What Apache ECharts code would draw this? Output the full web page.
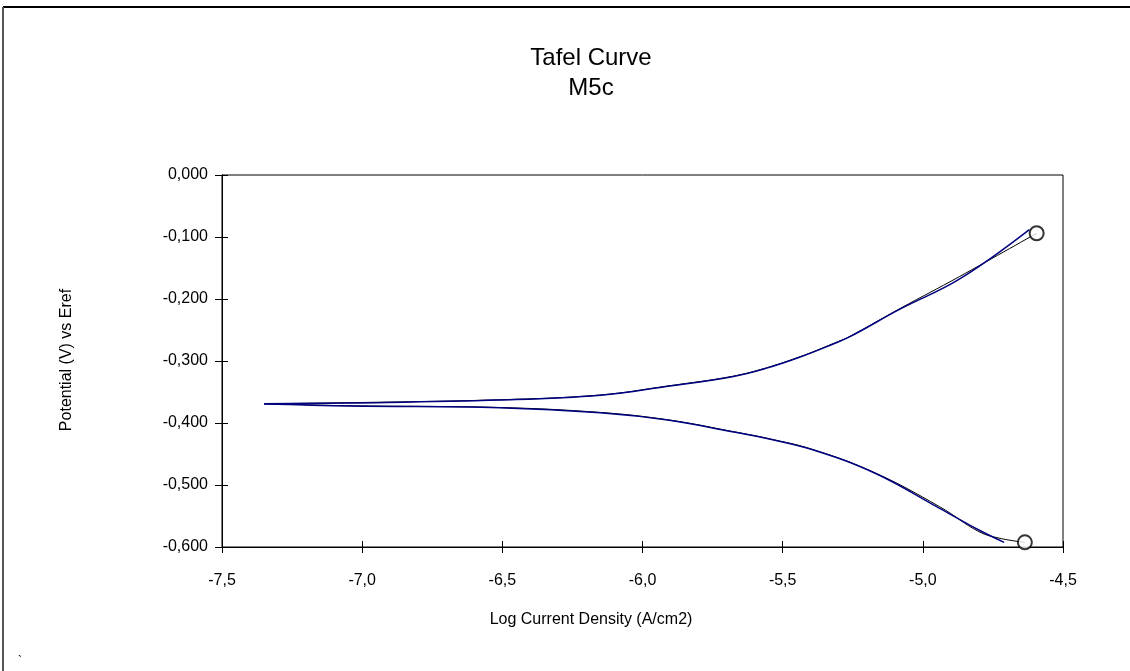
<!DOCTYPE html>
<html>
<head>
<meta charset="utf-8">
<title>Tafel Curve M5c</title>
<script src="https://cdn.jsdelivr.net/npm/echarts@6/dist/echarts.min.js"></script>
<style>
  html, body { margin: 0; padding: 0; background: #fff; }
  #chart { width: 1130px; height: 671px; }
</style>
</head>
<body>
<div id="chart"></div>
<script>
// Measured polarisation curve, anodic (upper) branch
const upperLogI = [-7.35, -7.04, -6.51, -6.15, -5.91, -5.68, -5.56, -5.44, -5.32, -5.26, -5.08, -4.87, -4.62];
const upperE    = [-0.369, -0.3677, -0.3630, -0.3553, -0.3408, -0.3253, -0.3119, -0.2940, -0.2726, -0.2608, -0.216, -0.168, -0.088];
// Measured polarisation curve, cathodic (lower) branch
const lowerLogI = [-7.35, -7.04, -6.51, -6.15, -5.91, -5.68, -5.56, -5.39, -5.17, -4.94, -4.80, -4.71];
const lowerE    = [-0.369, -0.3726, -0.3753, -0.3834, -0.3952, -0.4140, -0.4247, -0.4435, -0.481, -0.5376, -0.5726, -0.5925];
// Fitted Tafel curve
const fitUpperLogI = [-7.35, -7.04, -6.51, -6.15, -5.91, -5.68, -5.56, -5.44, -5.32, -5.26, -5.08, -4.87, -4.594];
const fitUpperE    = [-0.369, -0.3672, -0.3625, -0.3548, -0.3403, -0.3248, -0.3113, -0.2934, -0.2720, -0.2602, -0.215, -0.164, -0.094];
const fitLowerLogI = [-7.35, -7.04, -6.51, -6.15, -5.91, -5.68, -5.56, -5.39, -5.17, -4.94, -4.80, -4.725, -4.636];
const fitLowerE    = [-0.369, -0.3722, -0.3750, -0.3830, -0.3948, -0.4136, -0.4243, -0.4431, -0.4805, -0.5350, -0.5753, -0.586, -0.5925];
// Fit range end markers
const markerLogI = [-4.594, -4.636];
const markerE    = [-0.094, -0.5925];

// Axis ranges
const xMin = -7.5, xMax = -4.5, xStep = 0.5;
const yMin = -0.6, yMax = 0, yStep = 0.1;

const FONT = '"Liberation Sans", Arial, sans-serif';
const zip = (xs, ys) => xs.map((x, i) => [x, ys[i]]);
const comma = (v, d) => v.toFixed(d).replace('.', ',');

const chart = echarts.init(document.getElementById('chart'), null, { renderer: 'canvas' });

const gridBox = { left: 222, right: 67, top: 175, bottom: 124 };

const baseX = {
  type: 'value', min: xMin, max: xMax, interval: xStep,
  splitLine: { show: false },
  axisLine: { show: true, onZero: false, lineStyle: { color: '#000', width: 1 } }
};
const baseY = {
  type: 'value', min: yMin, max: yMax, interval: yStep,
  splitLine: { show: false },
  axisLine: { show: true, onZero: false, lineStyle: { color: '#000', width: 1 } }
};

const lineSeries = (name, data, color, width, z) => ({
  name, type: 'line', data, xAxisIndex: 0, yAxisIndex: 0,
  smooth: 0.4, showSymbol: false, symbol: 'none', z,
  lineStyle: { color, width }, silent: true, animation: false
});

chart.setOption({
  animation: false,
  backgroundColor: '#fff',
  grid: Object.assign({ show: true, borderColor: '#000', borderWidth: 1, backgroundColor: 'transparent' }, gridBox),
  xAxis: [
    Object.assign({}, baseX, {
      axisTick: { show: true, inside: false, length: 6, lineStyle: { color: '#000' } },
      axisLabel: { margin: 26, fontFamily: FONT, fontSize: 16, color: '#000', formatter: v => comma(v, 1) }
    }),
    Object.assign({}, baseX, {
      position: 'bottom',
      axisTick: { show: true, inside: true, length: 6, lineStyle: { color: '#000' } },
      axisLabel: { show: false }
    })
  ],
  yAxis: [
    Object.assign({}, baseY, {
      axisTick: { show: true, inside: false, length: 7, lineStyle: { color: '#000' } },
      axisLabel: { margin: 14, fontFamily: FONT, fontSize: 16, color: '#000', formatter: v => comma(v, 3) }
    }),
    Object.assign({}, baseY, {
      position: 'left',
      axisTick: { show: true, inside: true, length: 6, lineStyle: { color: '#000' } },
      axisLabel: { show: false }
    })
  ],
  series: [
    lineSeries('Fit anodic', zip(fitUpperLogI, fitUpperE), '#000000', 1, 2),
    lineSeries('Fit cathodic', zip(fitLowerLogI, fitLowerE), '#000000', 1, 2),
    lineSeries('Anodic', zip(upperLogI, upperE), '#000080', 1.5, 3),
    lineSeries('Cathodic', zip(lowerLogI, lowerE), '#000080', 1.5, 3),
    {
      name: 'Fit range', type: 'scatter', data: zip(markerLogI, markerE),
      symbol: 'circle', symbolSize: 14, z: 5, silent: true,
      itemStyle: { color: '#fff', borderColor: '#000', borderWidth: 2 }
    }
  ],
  graphic: [
    // outer frame (top and left edges)
    { type: 'line', shape: { x1: 3, y1: 7, x2: 1130, y2: 7 }, style: { stroke: '#000', lineWidth: 2 } },
    { type: 'line', shape: { x1: 3, y1: 7, x2: 3, y2: 671 }, style: { stroke: '#555', lineWidth: 2 } },
    // title
    { type: 'text', x: 591, y: 58, style: { text: 'Tafel Curve', font: '24px ' + FONT, fill: '#000', align: 'center', verticalAlign: 'middle' } },
    { type: 'text', x: 591, y: 88, style: { text: 'M5c', font: '24px ' + FONT, fill: '#000', align: 'center', verticalAlign: 'middle' } },
    // axis names
    { type: 'text', x: 591, y: 620, style: { text: 'Log Current Density (A/cm2)', font: '16px ' + FONT, fill: '#000', align: 'center', verticalAlign: 'middle' } },
    { type: 'text', x: 67, y: 360, rotation: Math.PI / 2, style: { text: 'Potential (V) vs Eref', font: '16px ' + FONT, fill: '#000', align: 'center', verticalAlign: 'middle' } },
    { type: 'text', x: 20, y: 662, style: { text: '`', font: '12px ' + FONT, fill: '#000', align: 'center', verticalAlign: 'middle' } }
  ]
});
</script>
</body>
</html>
